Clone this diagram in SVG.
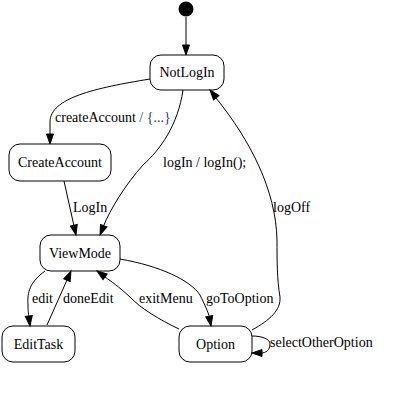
<svg xmlns="http://www.w3.org/2000/svg" width="412" height="409" viewBox="0 0 412 409" font-family="Times New Roman, Liberation Serif, serif" font-size="14">
  <defs>
    <path id="ah" d="M0,0 L-10,-3.5 L-10,3.5 Z" fill="#000000" stroke="#000000" stroke-width="1"/>
  </defs>
  <rect width="412" height="409" fill="#ffffff"/>

  <g id="initial">
    <circle cx="186" cy="9" r="7.5" fill="#000000"/>
  </g>

  <g id="NotLogIn">
    <rect x="150" y="55" width="74" height="35" rx="11" ry="11" fill="#ffffff" stroke="#000000"/>
    <text x="187" y="77" text-anchor="middle">NotLogIn</text>
  </g>
  <g id="CreateAccount">
    <rect x="9" y="144" width="102" height="37" rx="11" ry="11" fill="#ffffff" stroke="#000000"/>
    <text x="60" y="167" text-anchor="middle">CreateAccount</text>
  </g>
  <g id="ViewMode">
    <rect x="40" y="235" width="80" height="36" rx="11" ry="11" fill="#ffffff" stroke="#000000"/>
    <text x="80" y="258" text-anchor="middle">ViewMode</text>
  </g>
  <g id="EditTask">
    <rect x="2" y="326" width="73" height="36" rx="11" ry="11" fill="#ffffff" stroke="#000000"/>
    <text x="38.5" y="349" text-anchor="middle">EditTask</text>
  </g>
  <g id="Option">
    <rect x="179" y="326" width="73" height="36" rx="11" ry="11" fill="#ffffff" stroke="#000000"/>
    <text x="215.5" y="349" text-anchor="middle">Option</text>
  </g>

  <g id="connectors">
    <g fill="none" stroke="#000000" stroke-width="1">
      <path d="M186,17 L186,46"/>
      <path d="M150,79 C95,88 50,98 50,122 L50,135"/>
      <path d="M183,90 C178,125 160,150 143,165 C125,185 110,210 103.5,226"/>
      <path d="M64,181 L74,226"/>
      <path d="M252,330 C270,320 281,310 280,297 C277,280 277,260 277,240 C276,190 250,140 216,98"/>
      <path d="M45,271 C30,282 27,292 28,305 C28,312 28.6,315 29,317"/>
      <path d="M47,325 L67,280"/>
      <path d="M179,329 C160,320 140,308 130,297 C118,286 112,282 105,277"/>
      <path d="M120,259 C160,266 190,280 200,295 C205,305 208,312 209.5,317"/>
      <path d="M252,336 C262,336 270,339 270,344 C270,350 266,353 261,353"/>
    </g>
    <use href="#ah" transform="translate(186,55) rotate(90)"/>
    <use href="#ah" transform="translate(50,144) rotate(90)"/>
    <use href="#ah" transform="translate(100,235) rotate(111.8)"/>
    <use href="#ah" transform="translate(76,235) rotate(77.5)"/>
    <use href="#ah" transform="translate(210,90) rotate(231.3)"/>
    <use href="#ah" transform="translate(30,326) rotate(82.9)"/>
    <use href="#ah" transform="translate(71,271) rotate(-66)"/>
    <use href="#ah" transform="translate(97,271) rotate(-144)"/>
    <use href="#ah" transform="translate(211,326) rotate(79.7)"/>
    <use href="#ah" transform="translate(252,353) rotate(180)"/>
  </g>

  <g id="labels" fill="#000000">
    <text x="55" y="122">createAccount <tspan fill="#1f3b7a">/ {...}</tspan></text>
    <text x="163" y="167">logIn / logIn();</text>
    <text x="73" y="212">LogIn</text>
    <text x="273" y="212">logOff</text>
    <text x="32" y="303">edit</text>
    <text x="63" y="303">doneEdit</text>
    <text x="139" y="303">exitMenu</text>
    <text x="206" y="303">goToOption</text>
    <text x="270" y="347">selectOtherOption</text>
  </g>
</svg>
